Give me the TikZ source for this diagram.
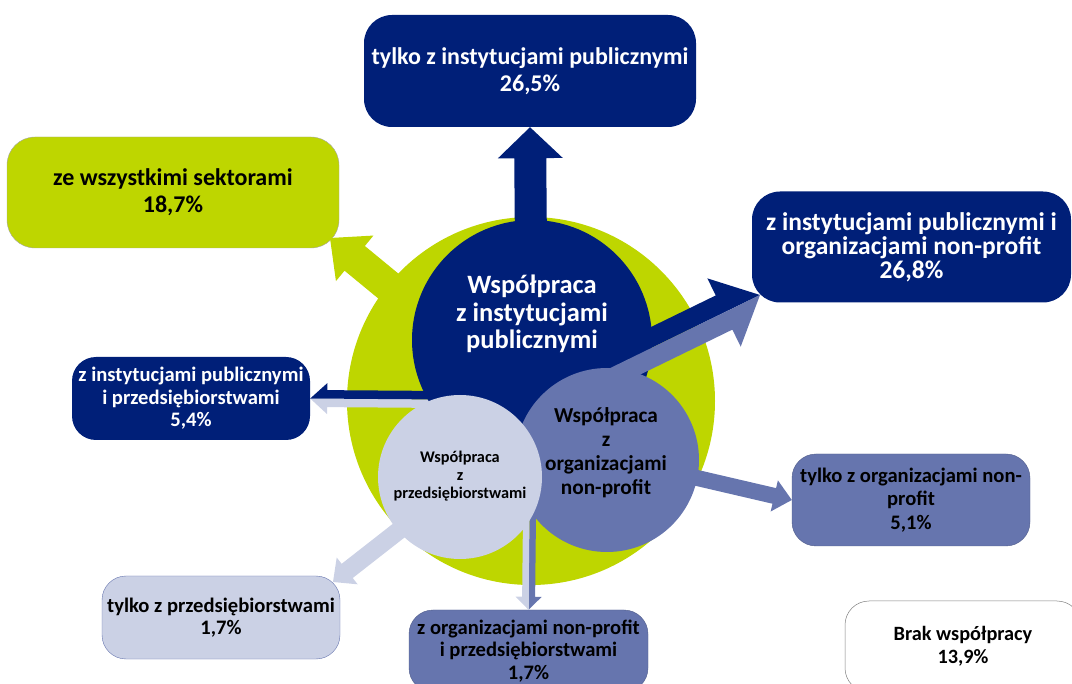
\documentclass[tikz,border=0pt]{standalone}
\usepackage{fontspec}
\setmainfont{Carlito}
\usetikzlibrary{calc}

\definecolor{navy}{RGB}{0,31,120}
\definecolor{lime}{RGB}{190,214,0}
\definecolor{slate}{RGB}{102,117,174}
\definecolor{mist}{RGB}{203,209,229}

\tikzset{
  box/.style={rounded corners=28pt, inner sep=0pt, align=center,
    font=\bfseries\fontsize{24}{27}\selectfont},
  smallbox/.style={box, rounded corners=24pt,
    font=\bfseries\fontsize{20.6}{22.5}\selectfont},
}

% block arrow: tail, tip, shaft half width, head half width, head length, colour
\newcommand\blockarrow[6]{%
  \coordinate (hb) at ($(#2)!#5!(#1)$);
  \fill[#6] ($(#1)!#3!90:(#2)$) -- ($(hb)!#3!90:(#2)$) -- ($(hb)!#4!90:(#2)$) -- (#2)
    -- ($(hb)!#4!-90:(#2)$) -- ($(hb)!#3!-90:(#2)$) -- ($(#1)!#3!-90:(#2)$) -- cycle;
}
% two coloured block arrow, #6 on the left of the direction, #7 on the right
\newcommand\splitarrow[7]{%
  \coordinate (hb) at ($(#2)!#5!(#1)$);
  \fill[#6] (#1) -- ($(#1)!#3!90:(#2)$) -- ($(hb)!#3!90:(#2)$) -- ($(hb)!#4!90:(#2)$) -- (#2) -- cycle;
  \fill[#7] (#1) -- ($(#1)!#3!-90:(#2)$) -- ($(hb)!#3!-90:(#2)$) -- ($(hb)!#4!-90:(#2)$) -- (#2) -- cycle;
}

\begin{document}
\begin{tikzpicture}[x=1pt,y=-1pt]
  \useasboundingbox (0,0) rectangle (1072,684);
  \clip (0,0) rectangle (1072,684);

  % boxes
  \node[box, fill=navy, text=white, minimum width=332pt, minimum height=112pt] (pubonly) at (530,71)
    {tylko z instytucjami publicznymi\\26,5\%};
  \node[box, fill=lime, draw=gray!70, line width=0.4pt, minimum width=332pt, minimum height=111pt] (allsect) at (173,192.5)
    {ze wszystkimi sektorami\\18,7\%};
  \node[box, fill=navy, text=white, minimum width=319pt, minimum height=111pt,
    font=\bfseries\fontsize{25.5}{24}\selectfont] (pubngo) at (911.5,247)
    {z instytucjami publicznymi i\\organizacjami non-profit\\26,8\%};
  \node[smallbox, fill=navy, text=white, minimum width=238pt, minimum height=83pt] (pubfirm) at (191,398.5)
    {z instytucjami publicznymi\\i przedsiębiorstwami\\5,4\%};
  \node[smallbox, fill=slate, draw=slate!80!black, line width=0.4pt, minimum width=238pt, minimum height=92pt,
    font=\bfseries\fontsize{20.6}{23.5}\selectfont] (ngoonly) at (911,500)
    {tylko z organizacjami non-\\profit\\5,1\%};
  \node[smallbox, fill=mist, draw=slate, line width=0.4pt, minimum width=238pt, minimum height=83pt] (firmonly) at (221,617.5)
    {tylko z przedsiębiorstwami\\1,7\%};
  \node[smallbox, fill=slate, draw=slate!80!black, line width=0.4pt, minimum width=239pt, minimum height=82pt] (ngofirm) at (528.5,651)
    {z organizacjami non-profit\\i przedsiębiorstwami\\1,7\%};
  \node[smallbox, fill=white, draw=gray, line width=0.5pt, minimum width=236pt, minimum height=91pt,
    font=\bfseries\fontsize{20.3}{23}\selectfont] (nocoop) at (963,646.5)
    {Brak współpracy\\13,9\%};

  % big ring
  \node[circle, fill=lime, minimum size=368pt, inner sep=0pt] (ring) at (531,401) {};

  % arrow ends
  \coordinate (alltail) at (415,308);
  \coordinate (alltip) at (330,238);
  \coordinate (uptail) at (531,250);
  \coordinate (pftail) at (445,399.5);
  \coordinate (fotail) at (420,514);
  \coordinate (fotip) at (333,582);
  \coordinate (nftail) at (529.5,515);
  \coordinate (notail) at (680,474);
  \coordinate (pntail) at (598,374);
  \coordinate (pntip) at (760,295);

  \blockarrow{alltail}{alltip}{16pt}{29.5pt}{32pt}{lime}
  \blockarrow{uptail}{pubonly.south}{16pt}{32.5pt}{31pt}{navy}
  \splitarrow{pftail}{pubfirm.east}{8.5pt}{15.5pt}{17pt}{mist}{navy}
  \blockarrow{fotail}{fotip}{9pt}{17pt}{18pt}{mist}
  \splitarrow{nftail}{ngofirm.north}{6.5pt}{13pt}{13pt}{slate}{mist}
  \blockarrow{notail}{ngoonly.west}{8pt}{16pt}{18pt}{slate}

  % circles
  \node[circle, fill=navy, minimum size=240pt, inner sep=0pt] (pub) at (532,340) {};
  \splitarrow{pntail}{pntip}{19pt}{38pt}{40pt}{navy}{slate}
  \node[circle, fill=slate, minimum size=184pt, inner sep=0pt] (ngo) at (607,460) {};
  \node[circle, fill=mist, minimum size=164pt, inner sep=0pt] (firm) at (460,477) {};

  % circle texts
  \node[align=center, text=white, font=\bfseries\fontsize{26.5}{27.5}\selectfont] (pubtext) at (532,314)
    {Współpraca\\z instytucjami\\publicznymi};
  \node[align=center, font=\bfseries\fontsize{21.3}{24}\selectfont] (ngotext) at (606,453)
    {Współpraca\\z\\organizacjami\\non-profit};
  \node[align=center, font=\bfseries\fontsize{16.3}{18}\selectfont] (firmtext) at (460,476)
    {Współpraca\\z\\przedsiębiorstwami};
\end{tikzpicture}
\end{document}
